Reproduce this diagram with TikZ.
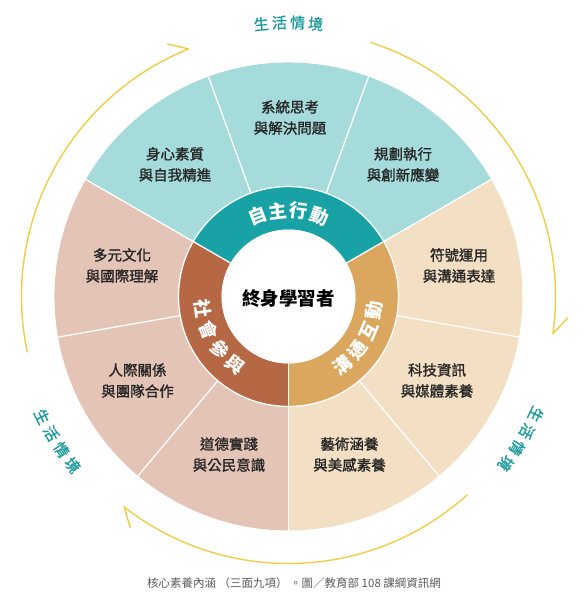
\documentclass[tikz,border=0pt]{standalone}
\usepackage{fontspec}
\setmainfont{Noto Sans CJK TC}
\newfontfamily\medcjk[FakeBold=1.3]{Noto Sans CJK TC}
\definecolor{tealL}{HTML}{A5DBDB}
\definecolor{pinkL}{HTML}{E4C4B6}
\definecolor{beigeL}{HTML}{F3DFC3}
\definecolor{tealD}{HTML}{18A2A5}
\definecolor{brownD}{HTML}{B66743}
\definecolor{goldD}{HTML}{DBA65E}
\definecolor{yarcC}{HTML}{F1CC45}
\definecolor{tealT}{HTML}{1B9B9D}
\definecolor{labT}{HTML}{262626}
\definecolor{capT}{HTML}{5A5A5A}
\begin{document}
\begin{tikzpicture}[x=1pt,y=1pt,
  sep/.style={white,line width=1.3pt},
  lab/.style={align=center,text=labT,font=\medcjk\fontsize{14.5}{21}\selectfont,inner sep=0pt},
  ringch/.style={text=white,font=\fontsize{18.5}{18.5}\bfseries,inner sep=0pt},
  ctxch/.style={text=tealT,font=\medcjk\fontsize{15}{15}\selectfont,inner sep=0pt},
  yarc/.style={yarcC,line width=1.4pt,line cap=round}]
\useasboundingbox (-288.5,-303.5) rectangle (294.5,296.5);
\def\Ro{234}\def\Rm{110}\def\Ri{67}\def\Ry{267}
% outer sectors
\fill[tealL] (0,0) -- (30:\Ro) arc[start angle=30,end angle=150,radius=\Ro] -- cycle;
\fill[pinkL] (0,0) -- (150:\Ro) arc[start angle=150,end angle=270,radius=\Ro] -- cycle;
\fill[beigeL] (0,0) -- (270:\Ro) arc[start angle=270,end angle=390,radius=\Ro] -- cycle;
% middle ring
\fill[tealD] (30:\Rm) arc[start angle=30,end angle=150,radius=\Rm] -- (150:\Ri) arc[start angle=150,end angle=30,radius=\Ri] -- cycle;
\fill[brownD] (150:\Rm) arc[start angle=150,end angle=270,radius=\Rm] -- (270:\Ri) arc[start angle=270,end angle=150,radius=\Ri] -- cycle;
\fill[goldD] (270:\Rm) arc[start angle=270,end angle=390,radius=\Rm] -- (390:\Ri) arc[start angle=390,end angle=270,radius=\Ri] -- cycle;
% separators
\foreach \a in {30,70,...,350} \draw[sep] (\a:\Rm) -- (\a:\Ro);
\foreach \a in {30,150,270} \draw[sep] (\a:\Ri) -- (\a:\Rm);
\draw[sep] (0,0) circle[radius=\Rm];
\fill[white] (0,0) circle[radius=\Ri];
% centre
\node[font=\fontsize{18.5}{20}\bfseries,text=black,inner sep=0pt] (core) at (0,-1.5) {終身學習者};
% ring labels
\foreach \c [count=\i] in {自,主,行,動} {
  \pgfmathsetmacro\ang{110.8-13.9*(\i-1)}
  \node[ringch,rotate=\ang-90] (za\i) at (\ang:86) {\c};
}
\foreach \c [count=\i] in {社,會,參,與} {
  \pgfmathsetmacro\ang{188+14.67*(\i-1)}
  \node[ringch,rotate=\ang+90] (zb\i) at (\ang:87) {\c};
}
\foreach \c [count=\i] in {溝,通,互,動} {
  \pgfmathsetmacro\ang{308+14.4*(\i-1)}
  \node[ringch,rotate=\ang+90] (zc\i) at (\ang:87) {\c};
}
% outer labels
\node[lab] (l1) at (1.5,179) {系統思考\\與解決問題};
\node[lab] (l2) at (-113.5,132) {身心素質\\與自我精進};
\node[lab] (l3) at (114.5,132) {規劃執行\\與創新應變};
\node[lab] (l4) at (-166.5,31) {多元文化\\與國際理解};
\node[lab] (l5) at (170.5,31) {符號運用\\與溝通表達};
\node[lab] (l6) at (-151,-84) {人際關係\\與團隊合作};
\node[lab] (l7) at (148.5,-84) {科技資訊\\與媒體素養};
\node[lab] (l8) at (-59.5,-158) {道德實踐\\與公民意識};
\node[lab] (l9) at (61,-158) {藝術涵養\\與美感素養};
% context arcs
\coordinate (t1) at (112:\Ry); \coordinate (b1) at (115.6:280);
\coordinate (t2) at (-8:\Ry);  \coordinate (b2) at (-4.4:280);
\coordinate (t3) at (-128:\Ry); \coordinate (b3) at (-124.4:280);
\draw[yarc] (192:\Ry) arc[start angle=192,end angle=112,radius=\Ry];
\draw[yarc] (t1) -- (b1);
\draw[yarc] (72:\Ry) arc[start angle=72,end angle=-8,radius=\Ry];
\draw[yarc] (t2) -- (b2);
\draw[yarc] (-48:\Ry) arc[start angle=-48,end angle=-128,radius=\Ry];
\draw[yarc] (t3) -- (b3);
% context labels
\foreach \c [count=\i] in {生,活,情,境} {
  \pgfmathsetmacro\ang{95.7-3.8*(\i-1)}
  \node[ctxch,rotate=\ang-90] (ca\i) at (\ang:274) {\c};
}
\foreach \c [count=\i] in {生,活,情,境} {
  \pgfmathsetmacro\ang{206+4*(\i-1)}
  \node[ctxch,rotate=\ang+90] (cb\i) at (\ang:274) {\c};
}
\foreach \c [count=\i] in {生,活,情,境} {
  \pgfmathsetmacro\ang{334.5-4*(\i-1)}
  \node[ctxch,rotate=\ang-90] (cc\i) at (\ang:274) {\c};
}
% caption
\node[text=capT,font=\fontsize{11.5}{12}\selectfont,inner sep=0pt] (cap) at (5.5,-286.5) {核心素養內涵 （三面九項） 。圖／教育部 108 課綱資訊網};
\end{tikzpicture}
\end{document}
